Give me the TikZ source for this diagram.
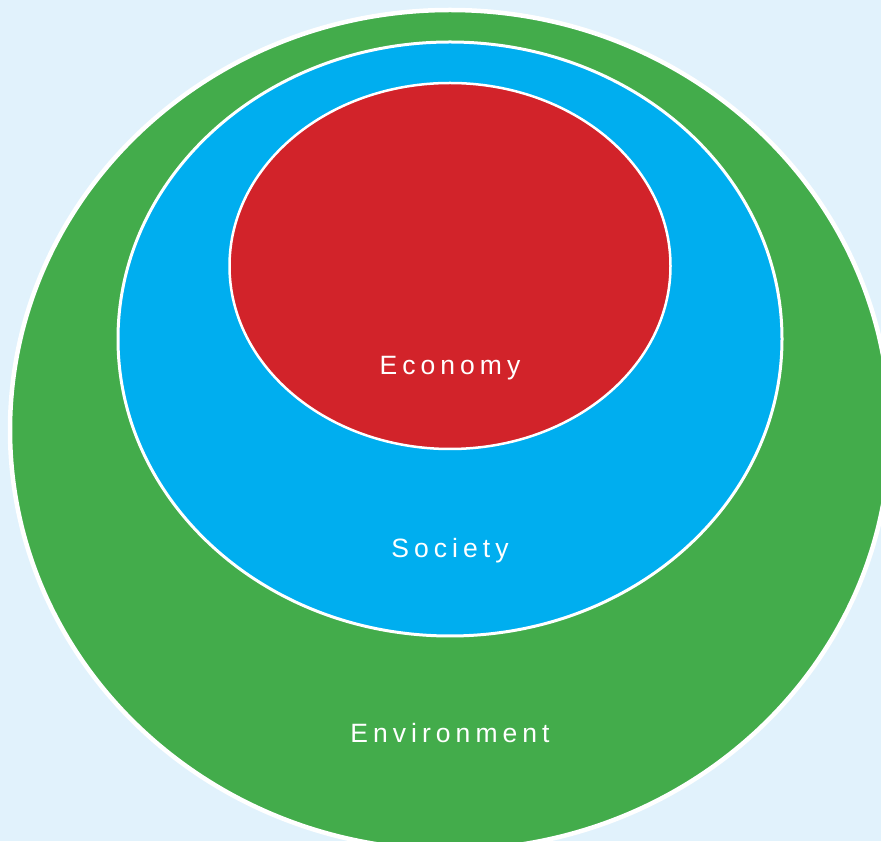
\documentclass[tikz,border=0pt]{standalone}
\usepackage{fontspec}
\setmainfont{Liberation Sans}
\newfontfamily\ringfont[LetterSpace=19]{Liberation Sans}
\usetikzlibrary{shapes.geometric}

\definecolor{skybg}{HTML}{E1F2FC}
\definecolor{envgreen}{HTML}{43AC4B}
\definecolor{socblue}{HTML}{00AEEF}
\definecolor{ecored}{HTML}{D2232A}

\begin{document}
\begin{tikzpicture}[x=1pt, y=1pt,
    ring/.style={ellipse, draw=white, inner sep=0pt},
    ringlabel/.style={text=white, font=\ringfont\fontsize{26.5}{26.5}\selectfont}]
    \fill[skybg] (0,0) rectangle (881,841);
    \useasboundingbox (0,0) rectangle (881,841);

    \node[ring, fill=envgreen, line width=4.5pt, minimum width=880, minimum height=840] (environment) at (450,411) {};
    \node[ring, fill=socblue, line width=3pt, minimum width=664, minimum height=594] (society) at (450,502) {};
    \node[ring, fill=ecored, line width=2.5pt, minimum width=441, minimum height=366] (economy) at (450,575) {};

    \node[ringlabel] (economytext) at (450,473) {Economy};
    \node[ringlabel] (societytext) at (450,290) {Society};
    \node[ringlabel] (environmenttext) at (450,108) {Environment};
\end{tikzpicture}
\end{document}
